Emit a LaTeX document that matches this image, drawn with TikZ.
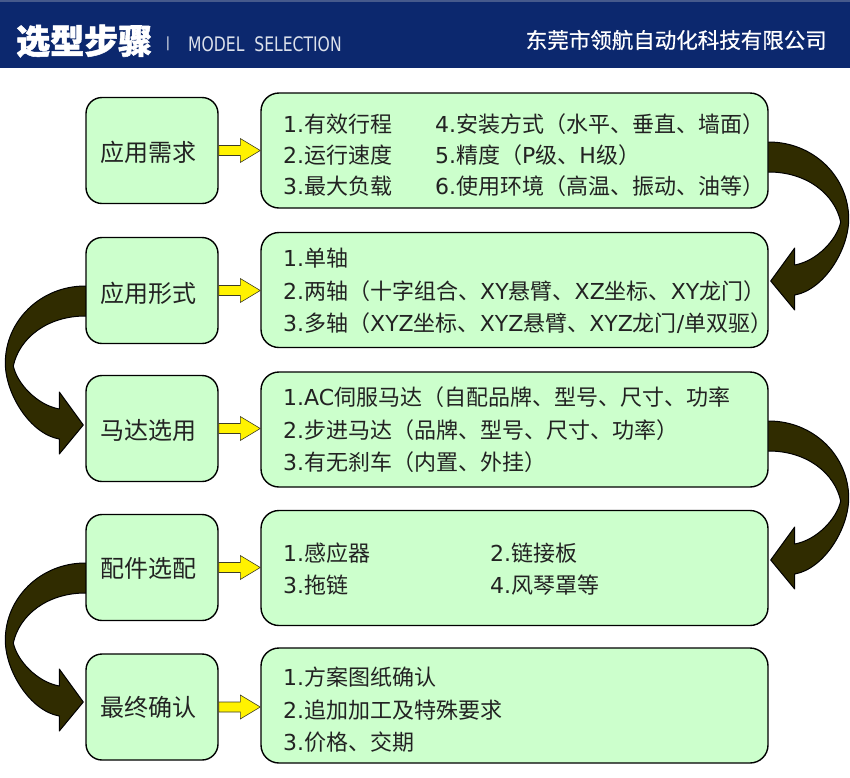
\documentclass[tikz,border=0pt]{standalone}
\usepackage{fontspec}
\setmainfont{Noto Sans CJK SC}
\newfontfamily\heavyfont{Noto Sans CJK SC}[FakeBold=1.5]
\newfontfamily\compfont{Noto Sans CJK SC}[FakeBold=0.6]
\newfontfamily\latinhdr{DejaVu Sans}
\newfontfamily\latfont{DejaVu Sans}
\newcommand\lat[1]{{\latfont #1}}
\usetikzlibrary{calc}
\definecolor{navy}{RGB}{12,40,110}
\definecolor{navyline}{RGB}{70,90,140}
\definecolor{boxgreen}{RGB}{204,255,204}
\definecolor{bendcol}{RGB}{48,44,0}
\definecolor{txt}{RGB}{34,34,34}
\definecolor{hdrgray}{RGB}{220,225,235}
\pgfdeclarelayer{bg}
\pgfsetlayers{bg,main}
\newcommand\bendshape{(12,0) -- (0,0)
      .. controls (-45,0) and (-80,35) .. (-80,77)
      .. controls (-80,108) and (-55,148) .. (-26,153)
      -- (-26,168) -- (-2,139) -- (-26,106) -- (-26,123)
      .. controls (-48,119) and (-68,98) .. (-72,80)
      .. controls (-66,52) and (-38,30) .. (0,30)
      -- (12,30) -- cycle}
\tikzset{
  leftbox/.style={draw=black, line width=1.4pt, fill=boxgreen, rounded corners=16pt,
    minimum width=132pt, minimum height=106pt, inner sep=0pt},
  lbl/.style={inner sep=0pt, text=txt, font=\fontsize{24}{28}\selectfont},
  rightbox/.style={draw=black, line width=1.4pt, fill=boxgreen, rounded corners=18pt,
    minimum width=507pt, minimum height=115pt, inner sep=0pt},
  item/.style={anchor=west, inner sep=0pt, text=txt, font=\fontsize{22}{26}\selectfont},
  yarrow/.style={fill=yellow, draw={rgb,255:red,60;green,60;blue,40}, line width=0.6pt, line join=miter},
  bendstyle/.style={fill=bendcol, draw=black, line width=1pt, line join=round}
}
\begin{document}
\begin{tikzpicture}[x=1pt,y=-1pt]
\useasboundingbox (0,0) rectangle (850,777);
% header
\fill[navy] (0,0) rectangle (850,68);
\fill[navyline] (0,0) rectangle (850,2);
\node[anchor=west, inner sep=0pt, text=white, font=\heavyfont\bfseries\fontsize{34}{36}\selectfont] (title) at (16,41) {选型步骤};
\node[inner sep=0pt, text=hdrgray, font=\latinhdr\fontsize{14}{16}\selectfont] (bar) at (168,44) {|};
\node[anchor=west, inner sep=0pt, text=hdrgray, font=\latinhdr\fontsize{20}{22}\selectfont] (eng) at (188,44) {\scalebox{0.78}[1]{MODEL\ \ SELECTION}};
\node[anchor=east, inner sep=0pt, text=white, font=\compfont\fontsize{21.5}{24}\selectfont] (company) at (827,40) {东莞市领航自动化科技有限公司};

% left boxes
\node[leftbox] (l1) at (152,150.5) {};
\node[leftbox] (l2) at (152,290.5) {};
\node[leftbox] (l3) at (152,428.5) {};
\node[leftbox] (l4) at (152,567.5) {};
\node[leftbox] (l5) at (152,707) {};
\node[lbl] (lb1) at ($(l1.center)+(-4,2)$) {应用需求};
\node[lbl] (lb2) at ($(l2.center)+(-4,3)$) {应用形式};
\node[lbl] (lb3) at ($(l3.center)+(-4,2)$) {马达选用};
\node[lbl] (lb4) at ($(l4.center)+(-4,1)$) {配件选配};
\node[lbl] (lb5) at ($(l5.center)+(-4,0)$) {最终确认};
% right boxes
\node[rightbox] (r1) at (514.5,150.5) {};
\node[rightbox] (r2) at (514.5,290) {};
\node[rightbox] (r3) at (514.5,429.5) {};
\node[rightbox] (r4) at (514.5,568) {};
\node[rightbox] (r5) at (514.5,705.5) {};

% row 1 texts
\node[item] (t11) at (283,124) {\lat{1.}有效行程};
\node[item] (t12) at (283,155) {\lat{2.}运行速度};
\node[item] (t13) at (283,186) {\lat{3.}最大负载};
\node[item] (t14) at (435,124) {\lat{4.}安装方式（水平、垂直、墙面）};
\node[item] (t15) at (435,155) {\lat{5.}精度（\lat{P}级、\lat{H}级）};
\node[item] (t16) at (435,186) {\lat{6.}使用环境（高温、振动、油等）};
% row 2
\node[item] (t21) at (283,258) {\lat{1.}单轴};
\node[item] (t22) at (283,291) {\lat{2.}两轴（十字组合、\lat{XY}悬臂、\lat{XZ}坐标、\lat{XY}龙门）};
\node[item] (t23) at (283,323) {\lat{3.}多轴（\lat{XYZ}坐标、\lat{XYZ}悬臂、\lat{XYZ}龙门\lat{/}单双驱）};
% row 3
\node[item] (t31) at (283,397) {\lat{1.AC}伺服马达（自配品牌、型号、尺寸、功率};
\node[item] (t32) at (283,430) {\lat{2.}步进马达（品牌、型号、尺寸、功率）};
\node[item] (t33) at (283,462) {\lat{3.}有无刹车（内置、外挂）};
% row 4
\node[item] (t41) at (283,553) {\lat{1.}感应器};
\node[item] (t42) at (490,553) {\lat{2.}链接板};
\node[item] (t43) at (283,585) {\lat{3.}拖链};
\node[item] (t44) at (490,585) {\lat{4.}风琴罩等};
% row 5
\node[item] (t51) at (283,677) {\lat{1.}方案图纸确认};
\node[item] (t52) at (283,710) {\lat{2.}追加加工及特殊要求};
\node[item] (t53) at (283,742) {\lat{3.}价格、交期};

% yellow arrows
\foreach \i in {1,...,5}{
  \coordinate (tip\i) at (l\i.east -| r\i.west);
  \path[yarrow] ($(l\i.east)+(0,-5)$) -- ($(tip\i)+(-20,-5)$) -- ($(tip\i)+(-20,-12)$)
    -- (tip\i) -- ($(tip\i)+(-20,12)$) -- ($(tip\i)+(-20,5)$) -- ($(l\i.east)+(0,5)$) -- cycle;
}

% curved arrows
\begin{pgfonlayer}{bg}
\begin{scope}[shift={($(l2.west)+(0,-4.5)$)}]
  \path[bendstyle] \bendshape;
\end{scope}
\begin{scope}[shift={($(l4.west)+(0,-4.5)$)}]
  \path[bendstyle] \bendshape;
\end{scope}
\begin{scope}[shift={($(r1.east)+(0,-8.5)$)}, xscale=-1]
  \path[bendstyle] \bendshape;
\end{scope}
\begin{scope}[shift={($(r3.east)+(0,-8.5)$)}, xscale=-1]
  \path[bendstyle] \bendshape;
\end{scope}
\end{pgfonlayer}
\end{tikzpicture}
\end{document}
